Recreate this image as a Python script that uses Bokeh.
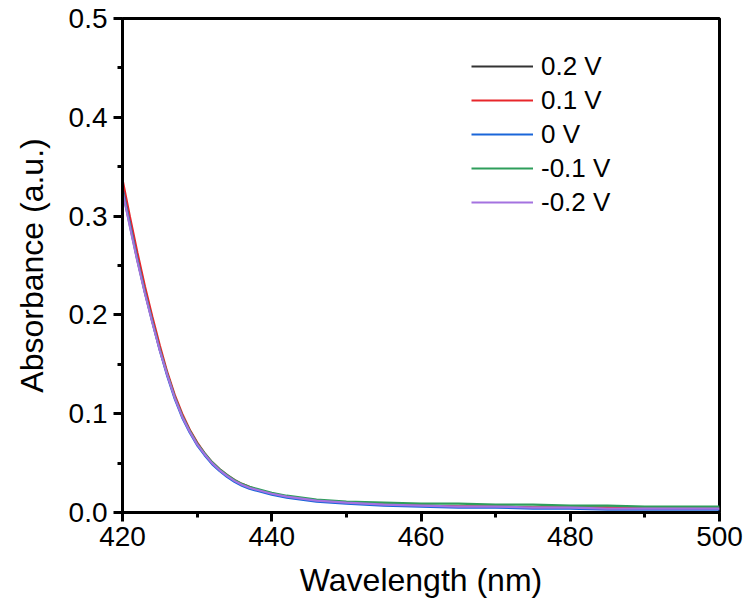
from bokeh.plotting import figure
from bokeh.models import Range1d, FixedTicker, Legend, LegendItem, NumeralTickFormatter
from bokeh.embed import file_html
from bokeh.resources import INLINE

wavelength = [420, 421, 422, 423, 424, 425, 426, 427, 428, 429, 430, 431, 432, 433, 434,
              435, 436, 437, 438, 439, 440, 442, 444, 446, 448, 450, 455, 460, 465, 470,
              475, 480, 485, 490, 495, 500]

abs_p02 = [0.332, 0.295, 0.259, 0.226, 0.195, 0.166, 0.140, 0.117, 0.098, 0.083, 0.070,
           0.059, 0.050, 0.043, 0.037, 0.032, 0.028, 0.025, 0.023, 0.021, 0.019, 0.016,
           0.014, 0.012, 0.011, 0.010, 0.008, 0.007, 0.006, 0.006, 0.005, 0.005, 0.005,
           0.004, 0.004, 0.004]
abs_p01 = [0.337, 0.299, 0.263, 0.229, 0.198, 0.169, 0.142, 0.119, 0.100, 0.084, 0.071,
           0.060, 0.051, 0.044, 0.038, 0.033, 0.029, 0.026, 0.023, 0.021, 0.019, 0.016,
           0.014, 0.012, 0.011, 0.010, 0.008, 0.007, 0.006, 0.006, 0.005, 0.005, 0.005,
           0.004, 0.004, 0.004]
abs_0 = [0.328, 0.292, 0.256, 0.223, 0.193, 0.164, 0.138, 0.115, 0.096, 0.081, 0.068,
         0.058, 0.049, 0.042, 0.036, 0.031, 0.027, 0.024, 0.022, 0.020, 0.018, 0.015,
         0.013, 0.011, 0.010, 0.009, 0.007, 0.006, 0.005, 0.005, 0.004, 0.004, 0.003,
         0.003, 0.003, 0.003]
abs_m01 = [0.326, 0.290, 0.255, 0.223, 0.193, 0.165, 0.140, 0.117, 0.098, 0.083, 0.070,
           0.060, 0.051, 0.044, 0.038, 0.033, 0.029, 0.026, 0.024, 0.022, 0.020, 0.017,
           0.015, 0.013, 0.012, 0.011, 0.010, 0.009, 0.009, 0.008, 0.008, 0.007, 0.007,
           0.006, 0.006, 0.006]
abs_m02 = [0.325, 0.289, 0.254, 0.222, 0.192, 0.164, 0.139, 0.116, 0.097, 0.082, 0.069,
           0.059, 0.050, 0.043, 0.037, 0.032, 0.028, 0.025, 0.023, 0.021, 0.019, 0.016,
           0.014, 0.012, 0.011, 0.010, 0.008, 0.007, 0.006, 0.006, 0.005, 0.005, 0.004,
           0.004, 0.004, 0.004]

labels = ["0.2 V", "0.1 V", "0 V", "-0.1 V", "-0.2 V"]
colors = ["#333333", "#e8262b", "#1a66d9", "#2e9e5b", "#a472e0"]
series = [abs_p02, abs_p01, abs_0, abs_m01, abs_m02]

x_ticks = [420, 440, 460, 480, 500]
x_minor = [430, 450, 470, 490]
y_ticks = [0.0, 0.1, 0.2, 0.3, 0.4, 0.5]
y_minor = [0.05, 0.15, 0.25, 0.35, 0.45]

FONT = "Liberation Sans"

p = figure(width=749, height=604, output_backend="svg", toolbar_location=None,
           x_range=Range1d(420, 500), y_range=Range1d(0, 0.5),
           min_border_left=122, min_border_right=30, min_border_top=18, min_border_bottom=92)
p.background_fill_color = "white"
p.border_fill_color = "white"
p.xgrid.visible = False
p.ygrid.visible = False
p.outline_line_color = "black"
p.outline_line_width = 3

items = []
for ys, c, lab in zip(series, colors, labels):
    r = p.line(wavelength, ys, line_color=c, line_width=2.2)
    items.append(LegendItem(label=lab, renderers=[r]))

for ax in (p.xaxis[0], p.yaxis[0]):
    ax.axis_line_width = 3
    ax.axis_line_color = "black"
    ax.major_tick_line_width = 3
    ax.minor_tick_line_width = 3
    ax.major_tick_out = 9
    ax.major_tick_in = 0
    ax.minor_tick_out = 5
    ax.minor_tick_in = 0
    ax.major_label_text_font = FONT
    ax.major_label_text_font_size = "28px"
    ax.major_label_text_color = "black"
    ax.axis_label_text_font = FONT
    ax.axis_label_text_font_size = "32px"
    ax.axis_label_text_font_style = "normal"
    ax.axis_label_text_color = "black"

p.xaxis.ticker = FixedTicker(ticks=x_ticks, minor_ticks=x_minor)
p.yaxis.ticker = FixedTicker(ticks=y_ticks, minor_ticks=y_minor)
p.yaxis.formatter = NumeralTickFormatter(format="0.0")
p.xaxis.axis_label = "Wavelength (nm)"
p.yaxis.axis_label = "Absorbance (a.u.)"
p.xaxis.major_label_standoff = 5
p.yaxis.major_label_standoff = 6
p.xaxis.axis_label_standoff = 13
p.yaxis.axis_label_standoff = 16

legend = Legend(items=items, location=(349, 293))
legend.background_fill_alpha = 0
legend.border_line_alpha = 0
legend.label_text_font = FONT
legend.label_text_font_size = "26px"
legend.label_text_color = "black"
legend.glyph_width = 62
legend.glyph_height = 34
legend.label_height = 34
legend.label_standoff = 8
legend.spacing = 0
legend.padding = 0
legend.margin = 0
p.add_layout(legend, "center")

open("out.html", "w").write(file_html(p, INLINE))
